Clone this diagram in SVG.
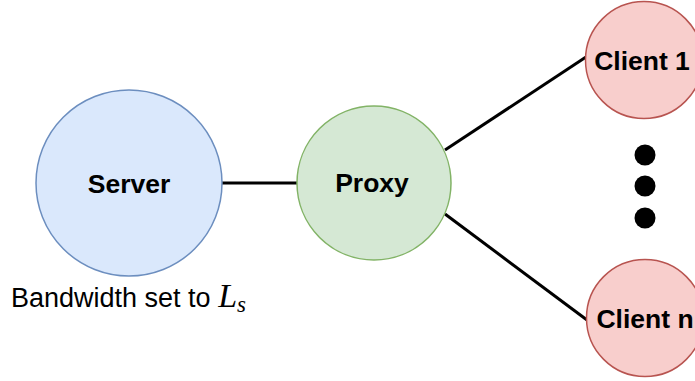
<svg xmlns="http://www.w3.org/2000/svg" width="695" height="381" viewBox="0 0 695 381">
  <style>
    .edge { stroke: #000; stroke-width: 3; fill: none; }
    .label { font-family: "Liberation Sans", Arial, Helvetica, sans-serif; font-weight: bold; font-size: 26.5px; fill: #000; text-anchor: middle; }
    .server { fill: #dae8fc; stroke: #6c8ebf; stroke-width: 1.5; }
    .proxy { fill: #d5e8d4; stroke: #82b366; stroke-width: 1.5; }
    .client { fill: #f8cecc; stroke: #b85450; stroke-width: 1.5; }
    .note { font-family: "Liberation Sans", Arial, Helvetica, sans-serif; font-size: 27px; fill: #000; }
    .math { font-family: "Liberation Serif", "Times New Roman", serif; font-style: italic; fill: #000; }
  </style>
  <rect width="695" height="381" fill="#fff"/>
  <g id="connectors">
    <line class="edge" x1="222" y1="183" x2="297" y2="183"/>
    <line class="edge" x1="445" y1="150" x2="586" y2="57"/>
    <line class="edge" x1="445" y1="214" x2="587" y2="320"/>
  </g>
  <g id="server">
    <circle class="server" cx="129" cy="183" r="93"/>
    <text class="label" x="129" y="193">Server</text>
  </g>
  <g id="proxy">
    <circle class="proxy" cx="374" cy="183" r="77"/>
    <text class="label" x="372" y="192">Proxy</text>
  </g>
  <g id="client-1">
    <circle class="client" cx="644" cy="60" r="58.5"/>
    <text class="label" x="642" y="70">Client 1</text>
  </g>
  <g id="client-n">
    <circle class="client" cx="645" cy="318" r="58.5"/>
    <text class="label" x="645" y="328">Client n</text>
  </g>
  <g id="ellipsis">
    <circle cx="645" cy="155" r="10.5" fill="#000"/>
    <circle cx="645" cy="186" r="10.5" fill="#000"/>
    <circle cx="645" cy="218" r="10.5" fill="#000"/>
  </g>
  <g id="server-note">
    <text class="note" x="11" y="307">Bandwidth set to <tspan class="math" font-size="34">L</tspan><tspan class="math" font-size="23" dy="5">s</tspan></text>
  </g>
</svg>
